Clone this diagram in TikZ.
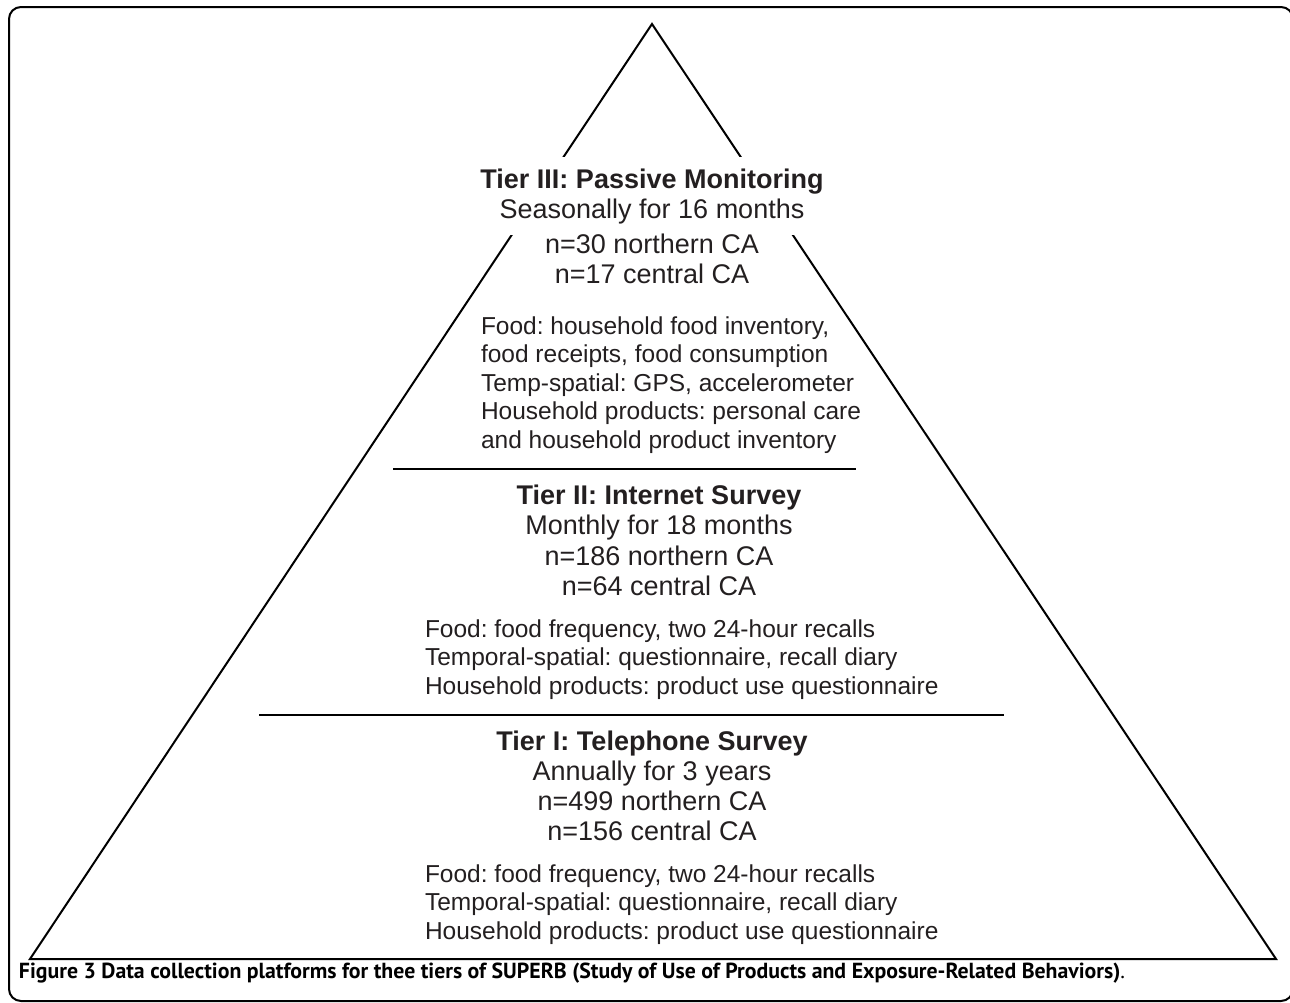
\documentclass[tikz,border=0pt]{standalone}
\usepackage{fontspec}
\setmainfont{Liberation Sans}
\newfontfamily\capfont{PT Sans}
\usetikzlibrary{positioning,calc}
\definecolor{inkgray}{RGB}{35,31,32}
\frenchspacing

\begin{document}
\begin{tikzpicture}[x=1pt, y=-1pt, line width=2pt]
    % Styles
    \tikzstyle{tierhead}=[anchor=base, align=center, inner xsep=4pt, inner ysep=11pt, text=inkgray, font=\fontsize{27}{30}\selectfont]
    \tikzstyle{tiercount}=[anchor=base, align=center, inner sep=0pt, text=inkgray, font=\fontsize{27}{30}\selectfont]
    \tikzstyle{tierlist}=[anchor=base west, align=left, inner sep=0pt, text=inkgray, font=\fontsize{24.5}{28.5}\selectfont]

    \useasboundingbox (0,0) rectangle (1290,1002);

    % Frame
    \draw[rounded corners=12pt] (9,7) rectangle (1293,1001);

    % Pyramid
    \coordinate (apex) at (652,24);
    \coordinate (baseL) at (30,959);
    \coordinate (baseR) at (1276,959);
    \draw[line join=miter] (apex) -- (baseL) -- (baseR) -- cycle;

    % Dividers
    \coordinate (d1l) at (393,469);
    \coordinate (d1r) at (856,469);
    \coordinate (d2l) at (259,715);
    \coordinate (d2r) at (1004,715);
    \draw[line width=2.5pt] (d1l) -- (d1r);
    \draw[line width=2.5pt] (d2l) -- (d2r);

    % Tier III (base = last line)
    \node[tierhead, fill=white] (t3head) at (652,218) {\textbf{Tier III: Passive Monitoring}\\Seasonally for 16 months};
    \node[tiercount] (t3count) at (652,283) {n=30 northern CA\\n=17 central CA};
    \node[tierlist] (t3list) at (480,448) {Food: household food inventory,\\food receipts, food consumption\\Temp-spatial: GPS, accelerometer\\Household products: personal care\\and household product inventory};

    % Tier II
    \node[tierhead] (t2head) at (659,534) {\textbf{Tier II: Internet Survey}\\Monthly for 18 months};
    \node[tiercount] (t2count) at (659,595) {n=186 northern CA\\n=64 central CA};
    \node[tierlist] (t2list) at (424,694) {Food: food frequency, two 24-hour recalls\\Temporal-spatial: questionnaire, recall diary\\Household products: product use questionnaire};

    % Tier I
    \node[tierhead] (t1head) at (652,780) {\textbf{Tier I: Telephone Survey}\\Annually for 3 years};
    \node[tiercount] (t1count) at (652,840) {n=499 northern CA\\n=156 central CA};
    \node[tierlist] (t1list) at (424,939) {Food: food frequency, two 24-hour recalls\\Temporal-spatial: questionnaire, recall diary\\Household products: product use questionnaire};

    % Caption
    \node[anchor=base west, inner sep=0pt, font=\capfont\fontsize{21.8}{25}\selectfont] (caption) at (18,978) {\textbf{Figure 3 Data collection platforms for thee tiers of SUPERB (Study of Use of Products and Exposure-Related Behaviors)}.};
\end{tikzpicture}
\end{document}
